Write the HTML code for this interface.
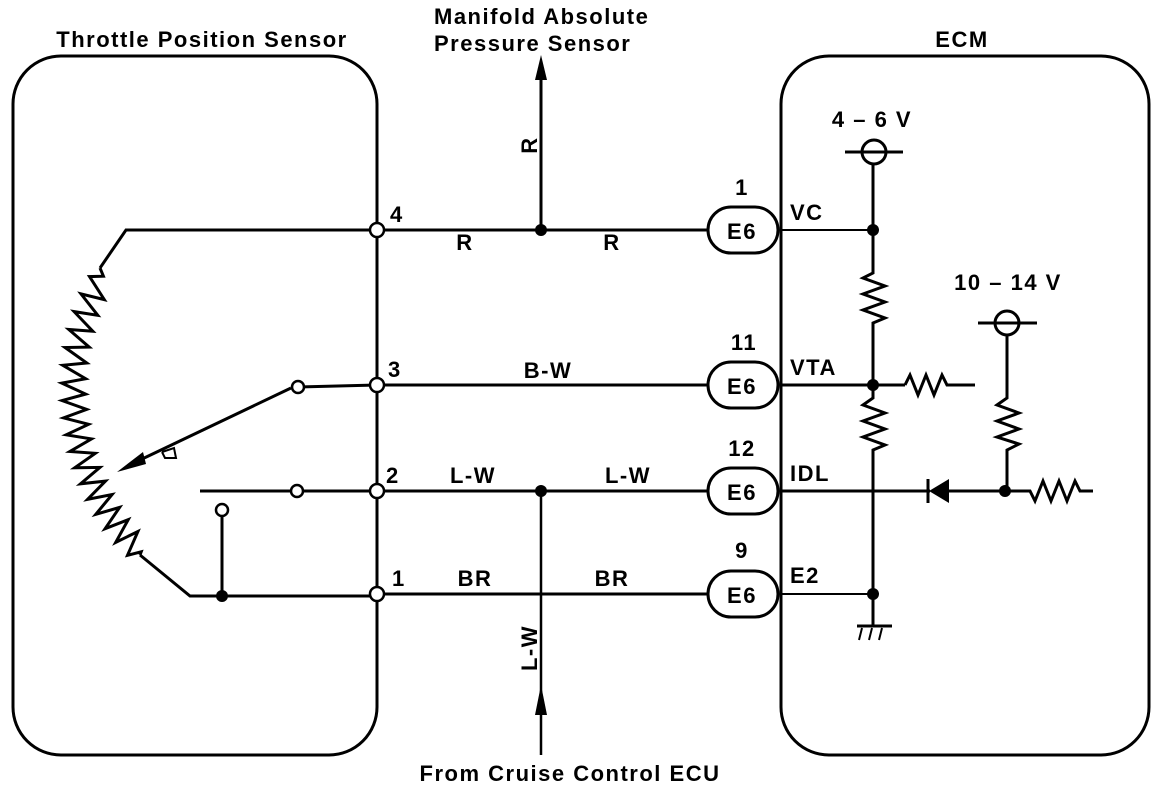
<!DOCTYPE html>
<html><head><meta charset="utf-8"><style>
html,body{margin:0;padding:0;background:#fff;}
svg{display:block;}
text{font-family:"Liberation Sans",sans-serif;font-size:22px;font-weight:bold;letter-spacing:1.5px;fill:#000;}
</style></head><body>
<svg id="s" width="1168" height="786" viewBox="0 0 1168 786" xmlns="http://www.w3.org/2000/svg">
<g fill="none" stroke="#000" stroke-width="3">
<rect x="13" y="56" width="364" height="699" rx="48" ry="48"/>
<rect x="781" y="56" width="368" height="699" rx="48" ry="48"/>
<line x1="377" y1="230" x2="708" y2="230"/>
<line x1="377" y1="385" x2="708" y2="385"/>
<line x1="377" y1="491" x2="708" y2="491"/>
<line x1="377" y1="594" x2="708" y2="594"/>
<line x1="541" y1="75" x2="541" y2="230"/>
<line x1="541" y1="491" x2="541" y2="755" stroke-width="2.5"/>
<polyline points="377,230 126,230 100,268"/>
<path id="zz" stroke-width="3"/>
<polyline points="140,555 190,596 377,596"/>
<line x1="222" y1="596" x2="222" y2="517"/>
<line x1="298" y1="387" x2="377" y2="385"/>
<line x1="291" y1="388" x2="140" y2="460"/>
<polyline points="162,452 174,448 176,458 165,458 162,452" stroke-width="2"/>
<line x1="200" y1="491" x2="290" y2="491"/>
<line x1="304" y1="491" x2="377" y2="491"/>
<rect x="708" y="207" width="70" height="46" rx="23"/>
<rect x="708" y="362" width="70" height="46" rx="23"/>
<rect x="708" y="468" width="70" height="46" rx="23"/>
<rect x="708" y="571" width="70" height="46" rx="23"/>
<line x1="781" y1="230" x2="873" y2="230" stroke-width="2"/>
<line x1="781" y1="385" x2="905" y2="385"/>
<line x1="781" y1="491" x2="930" y2="491"/>
<line x1="948" y1="491" x2="1005" y2="491"/>
<line x1="781" y1="594" x2="873" y2="594" stroke-width="2"/>
<line x1="845" y1="152" x2="903" y2="152"/>
<circle cx="874" cy="152" r="12"/>
<polyline points="873,164 873,273 863,278 885,286 863,294 885,302 863,310 885,318 873,323 873,398 863,405 885,413 863,421 885,429 863,437 885,445 873,450 873,625"/>
<polyline points="905,385 910,375 918,395 926,375 934,395 942,375 947,385 975,385"/>
<line x1="978" y1="323" x2="1037" y2="323"/>
<circle cx="1007" cy="323" r="12"/>
<polyline points="1007,335 1007,398 997,405 1019,413 997,421 1019,429 997,437 1019,444 1007,450 1007,491 1030,491 1035,501 1043,481 1051,501 1059,481 1067,501 1075,481 1080,491 1093,491"/>
<line x1="857" y1="626" x2="892" y2="626" stroke-width="3"/>
<line x1="862" y1="628" x2="859" y2="640" stroke-width="2"/>
<line x1="872" y1="628" x2="869" y2="640" stroke-width="2"/>
<line x1="882" y1="628" x2="879" y2="640" stroke-width="2"/>
<line x1="928" y1="479" x2="928" y2="503" stroke-width="3"/>
</g>
<g fill="#000">
<polygon points="929,491 949,479 949,503"/>
<polygon points="541,55 535,80 547,80"/>
<polygon points="541,685 535,715 547,715"/>
<circle cx="541" cy="230" r="6"/><circle cx="541" cy="491" r="6"/>
<circle cx="222" cy="596" r="6"/>
<circle cx="873" cy="230" r="6"/><circle cx="873" cy="385" r="6"/><circle cx="873" cy="594" r="6"/><circle cx="1005" cy="491" r="6"/>
<polygon points="117,472 143,452 146,464"/>
</g>
<g fill="#fff" stroke="#000" stroke-width="2.5">
<circle cx="377" cy="230" r="7"/><circle cx="377" cy="385" r="7"/><circle cx="377" cy="491" r="7"/><circle cx="377" cy="594" r="7"/>
<circle cx="298" cy="387" r="6"/><circle cx="297" cy="491" r="6"/><circle cx="222" cy="510" r="6"/>
</g>
<text x="202" y="47" text-anchor="middle">Throttle Position Sensor</text>
<text x="962" y="47" text-anchor="middle">ECM</text>
<text x="434" y="24">Manifold Absolute</text>
<text x="434" y="51">Pressure Sensor</text>
<text x="570" y="781" text-anchor="middle">From Cruise Control ECU</text>
<text x="390" y="222">4</text><text x="388" y="377">3</text><text x="386" y="483">2</text><text x="392" y="586">1</text>
<text x="465" y="250" text-anchor="middle">R</text><text x="612" y="250" text-anchor="middle">R</text>
<text x="548" y="378" text-anchor="middle">B-W</text>
<text x="473" y="483" text-anchor="middle">L-W</text><text x="628" y="483" text-anchor="middle">L-W</text>
<text x="475" y="586" text-anchor="middle">BR</text><text x="612" y="586" text-anchor="middle">BR</text>
<text transform="translate(537,145) rotate(-90)" text-anchor="middle">R</text>
<text transform="translate(537,648) rotate(-90)" text-anchor="middle">L-W</text>
<g text-anchor="middle">
<text x="742" y="239">E6</text><text x="742" y="394">E6</text><text x="742" y="500">E6</text><text x="742" y="603">E6</text>
<text x="742" y="195">1</text><text x="744" y="350">11</text><text x="742" y="456">12</text><text x="742" y="558">9</text>
</g>
<text x="790" y="220">VC</text><text x="790" y="375">VTA</text><text x="790" y="481">IDL</text><text x="790" y="583">E2</text>
<text x="872" y="127" text-anchor="middle">4 – 6 V</text>
<text x="1008" y="290" text-anchor="middle">10 – 14 V</text>
</svg>
<script>
(function(){
var cx=252,cy=410,pts=[],a0=222,a1=128,n=36;
for(var i=0;i<=n;i++){
 var t=i/n, a=(a0+(a1-a0)*t)*Math.PI/180;
 var r0=200+(180-200)*t-(Math.sin(Math.PI*t)*14);
 var r=(i==0||i==n)?r0:r0+((i%2)?12:-12);
 pts.push((cx+r*Math.cos(a)).toFixed(1)+","+(cy+r*Math.sin(a)).toFixed(1));
}
document.getElementById("zz").setAttribute("d","M100,268 L"+pts.join(" L")+" L140,555");
})();
</script>
</body></html>
